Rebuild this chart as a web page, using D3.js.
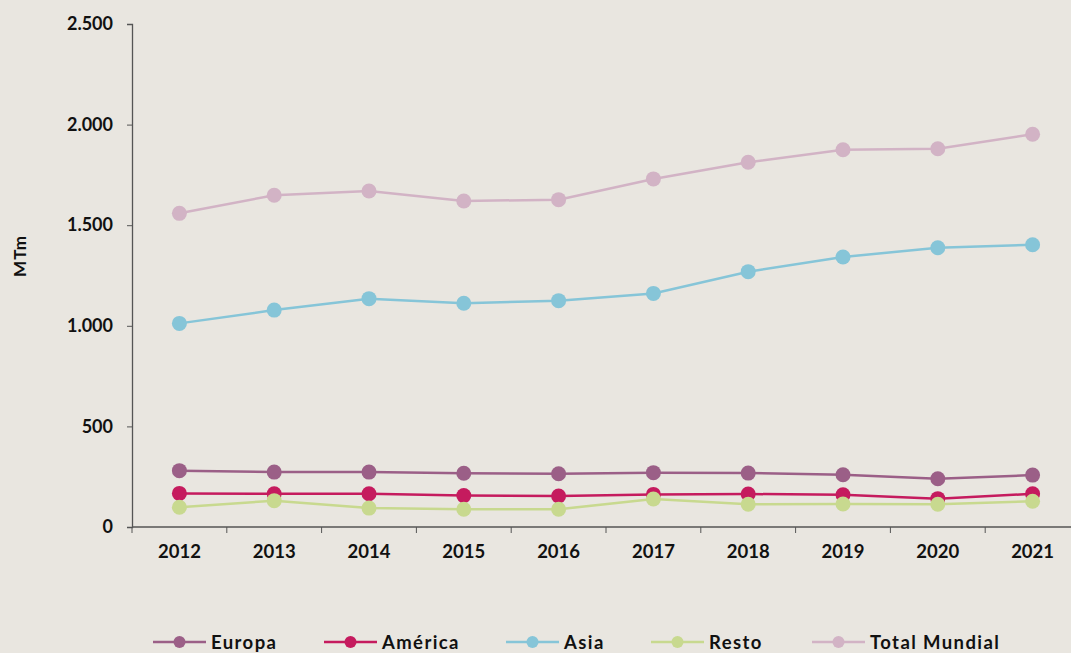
<!DOCTYPE html>
<html>
<head>
<meta charset="utf-8">
<script src="https://cdn.jsdelivr.net/npm/d3@7"></script>
<style>
  body { margin: 0; background: #e9e6e0; }
  text { font-family: Lato, "Open Sans", sans-serif; font-weight: bold; fill: #111; }
</style>
</head>
<body>
<div id="chart-area"></div>
<script>
let years = ["2012","2013","2014","2015","2016","2017","2018","2019","2020","2021"];
let europa = [280, 273, 273, 267, 265, 270, 268, 260, 240, 258];
let america = [167, 165, 165, 156, 154, 162, 164, 160, 141, 165];
let asia = [1012, 1078, 1135, 1112, 1125, 1161, 1269, 1342, 1388, 1403];
let resto = [98, 131, 94, 88, 88, 139, 113, 114, 113, 128];
let total = [1559, 1649, 1670, 1620, 1627, 1730, 1813, 1875, 1880, 1952];
let yTicks = [0, 500, 1000, 1500, 2000, 2500];

let series = [
  {name: "Europa", values: europa, color: "#9b5f87"},
  {name: "América", values: america, color: "#c51b5e"},
  {name: "Asia", values: asia, color: "#86c5d8"},
  {name: "Resto", values: resto, color: "#c8d98f"},
  {name: "Total Mundial", values: total, color: "#d2b3c5"}
];

let width = 1071, height = 653;
let svg = d3.select("#chart-area").append("svg")
    .attr("width", width)
    .attr("height", height);

let x = d3.scaleBand().domain(years).range([132, 1080]);
let y = d3.scaleLinear().domain([0, 2500]).range([527, 24]);

// y axis
let yAxis = svg.append("g").attr("transform", "translate(132,0)")
    .call(d3.axisLeft(y).tickValues(yTicks).tickSize(5)
        .tickFormat(d => d3.format(",")(d).replace(/,/g, ".")));
yAxis.select(".domain").attr("stroke", "#555").attr("stroke-width", 1.3);
yAxis.selectAll(".tick line").attr("stroke", "#555");
yAxis.selectAll(".tick text").attr("x", -19).attr("font-size", 18)
    .style("font-family", "Lato, sans-serif").style("font-weight", "bold").attr("fill", "#111");

// x axis (ticks between categories)
let xg = svg.append("g").attr("transform", "translate(0,527)");
xg.append("line").attr("x1", 132).attr("x2", 1080).attr("stroke", "#555").attr("stroke-width", 1.3);
xg.selectAll(".xt").data(years).enter().append("line")
    .attr("x1", d => x(d)).attr("x2", d => x(d))
    .attr("y1", 0).attr("y2", 6)
    .attr("stroke", "#555");
xg.selectAll(".xl").data(years).enter().append("text")
    .attr("x", d => x(d) + x.bandwidth() / 2)
    .attr("y", 31)
    .attr("text-anchor", "middle")
    .attr("font-size", 18.5)
    .text(d => d);

// axis title
svg.append("text")
    .attr("transform", "translate(26,256) rotate(-90)")
    .attr("text-anchor", "middle")
    .attr("font-size", 17)
    .attr("letter-spacing", 1)
    .text("MTm");

let line = d3.line()
    .x((d, i) => x(years[i]) + x.bandwidth() / 2)
    .y(d => y(d));

series.forEach(s => {
  svg.append("path")
      .datum(s.values)
      .attr("d", line)
      .attr("fill", "none")
      .attr("stroke", s.color)
      .attr("stroke-width", 2.5);
  svg.selectAll(null)
      .data(s.values)
      .enter()
      .append("circle")
      .attr("cx", (d, i) => x(years[i]) + x.bandwidth() / 2)
      .attr("cy", d => y(d))
      .attr("r", 7.5)
      .attr("fill", s.color);
});

// legend
let legendX = [153, 324, 506, 651, 812];
let legend = svg.selectAll(".leg").data(series).enter().append("g")
    .attr("transform", (d, i) => "translate(" + legendX[i] + ",642)");
legend.append("line").attr("x1", 0).attr("x2", 53)
    .attr("stroke", d => d.color).attr("stroke-width", 2.5);
legend.append("circle").attr("cx", 26.5).attr("r", 6).attr("fill", d => d.color);
legend.append("text").attr("x", 58).attr("y", 6.5)
    .attr("font-size", 18.5)
    .attr("letter-spacing", 1.4)
    .text(d => d.name);
</script>
</body>
</html>
